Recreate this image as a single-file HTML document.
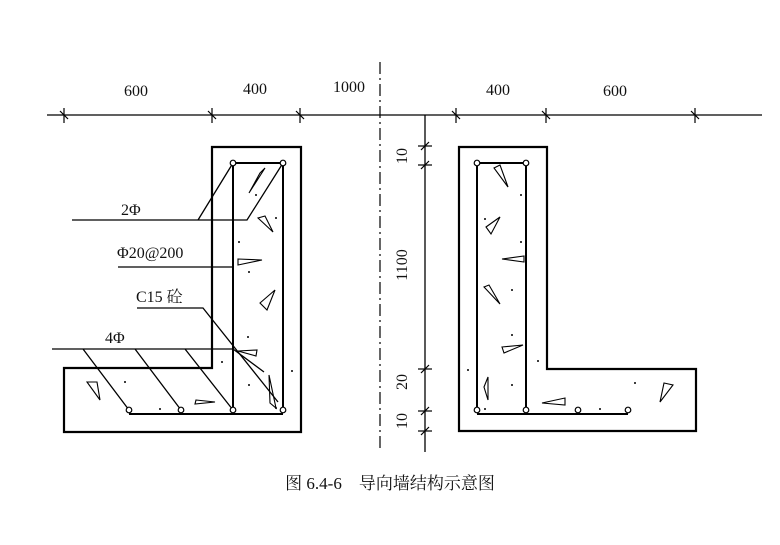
<!DOCTYPE html>
<html><head><meta charset="utf-8"><style>
html,body{margin:0;padding:0;background:#fff;}
svg{display:block}
text{font-family:"Liberation Serif","Noto Serif CJK SC",serif;fill:#111}
</style></head><body>
<svg width="780" height="545" viewBox="0 0 780 545" xmlns="http://www.w3.org/2000/svg">
<g stroke="#000" fill="none" stroke-width="1.3">
<line x1="47" y1="115" x2="762" y2="115"/>
<g stroke-width="1.2">
<line x1="64" y1="108" x2="64" y2="123"/><line x1="212" y1="108" x2="212" y2="123"/><line x1="300" y1="108" x2="300" y2="123"/>
<line x1="456" y1="108" x2="456" y2="123"/><line x1="546" y1="108" x2="546" y2="123"/><line x1="695" y1="108" x2="695" y2="123"/>
<line x1="60" y1="111" x2="68" y2="119"/><line x1="208" y1="111" x2="216" y2="119"/><line x1="296" y1="111" x2="304" y2="119"/>
<line x1="452" y1="111" x2="460" y2="119"/><line x1="542" y1="111" x2="550" y2="119"/><line x1="691" y1="111" x2="699" y2="119"/>
</g>
<line x1="380" y1="62" x2="380" y2="452" stroke-width="1.2" stroke-dasharray="12,4,2,4"/>
<line x1="425" y1="115" x2="425" y2="452"/>
<g stroke-width="1.2">
<line x1="418" y1="146" x2="432" y2="146"/><line x1="418" y1="165" x2="432" y2="165"/><line x1="418" y1="369" x2="432" y2="369"/><line x1="418" y1="411" x2="432" y2="411"/><line x1="418" y1="431" x2="432" y2="431"/>
<line x1="421" y1="150" x2="429" y2="142"/><line x1="421" y1="169" x2="429" y2="161"/><line x1="421" y1="373" x2="429" y2="365"/><line x1="421" y1="415" x2="429" y2="407"/><line x1="421" y1="435" x2="429" y2="427"/>
</g>
<path d="M212 147 L301 147 L301 432 L64 432 L64 368 L212 368 Z" stroke-width="2.2"/>
<path d="M233 163 L283 163 L283 410 M233 163 L233 410 M129 414 L283 414" stroke-width="2"/>
<path d="M459 147 L547 147 L547 369 L696 369 L696 431 L459 431 Z" stroke-width="2.2"/>
<path d="M477 163 L526 163 L526 410 M477 163 L477 410 M477 414 L628 414" stroke-width="2"/>
<path d="M72 220 L247 220 L283 163 M198 220 L233 163"/>
<path d="M118 267 L233 267"/>
<path d="M137 308 L203 308 L278 402"/>
<path d="M52 349 L233 349 M83 349 L129 410 M135 349 L181 410 M185 349 L233 410 M233 349 L264 372"/>
<g stroke-width="1.1">
<path d="M260 173 L265 168 L249 193 Z"/><path d="M258 218 L273 232 L265 216 Z"/><path d="M238 259 L262 260 L238 265 Z"/>
<path d="M260 303 L275 290 L267 310 Z"/><path d="M238 351 L257 350 L256 356 Z"/><path d="M269 375 L276 408 L270 403 Z"/>
<path d="M87 382 L97 382 L100 400 Z"/><path d="M196 400 L215 402 L195 404 Z"/>
<path d="M494 168 L500 165 L508 187 Z"/><path d="M486 227 L500 217 L491 234 Z"/><path d="M502 259 L524 256 L524 262 Z"/>
<path d="M484 287 L489 285 L500 304 Z"/><path d="M502 347 L523 345 L504 353 Z"/><path d="M484 387 L488 377 L488 400 Z"/>
<path d="M542 403 L565 398 L565 405 Z"/><path d="M664 383 L673 385 L660 402 Z"/>
</g>
</g>
<g fill="#000">
<circle cx="256" cy="195" r="1"/><circle cx="276" cy="218" r="1"/><circle cx="239" cy="242" r="1"/><circle cx="249" cy="272" r="1"/><circle cx="248" cy="337" r="1"/><circle cx="222" cy="362" r="1"/><circle cx="292" cy="371" r="1"/><circle cx="125" cy="382" r="1"/><circle cx="249" cy="385" r="1"/><circle cx="160" cy="409" r="1"/><circle cx="276" cy="408" r="1"/>
<circle cx="521" cy="195" r="1"/><circle cx="485" cy="219" r="1"/><circle cx="521" cy="242" r="1"/><circle cx="512" cy="290" r="1"/><circle cx="512" cy="335" r="1"/><circle cx="538" cy="361" r="1"/><circle cx="468" cy="370" r="1"/><circle cx="512" cy="385" r="1"/><circle cx="635" cy="383" r="1"/><circle cx="485" cy="409" r="1"/><circle cx="600" cy="409" r="1"/>
</g>
<g fill="#fff" stroke="#000" stroke-width="1.2">
<circle cx="233" cy="163" r="2.8"/><circle cx="283" cy="163" r="2.8"/><circle cx="129" cy="410" r="2.8"/><circle cx="181" cy="410" r="2.8"/><circle cx="233" cy="410" r="2.8"/><circle cx="283" cy="410" r="2.8"/>
<circle cx="477" cy="163" r="2.8"/><circle cx="526" cy="163" r="2.8"/><circle cx="477" cy="410" r="2.8"/><circle cx="526" cy="410" r="2.8"/><circle cx="578" cy="410" r="2.8"/><circle cx="628" cy="410" r="2.8"/>
</g>
<g font-size="16">
<text x="124" y="96">600</text><text x="243" y="94">400</text><text x="333" y="92">1000</text>
<text x="486" y="95">400</text><text x="603" y="96">600</text>
<text x="121" y="215">2Φ</text><text x="117" y="258">Φ20@200</text><text x="136" y="302">C15 砼</text><text x="105" y="343">4Φ</text>
<text transform="translate(407,156) rotate(-90)" text-anchor="middle">10</text>
<text transform="translate(407,265) rotate(-90)" text-anchor="middle">1100</text>
<text transform="translate(407,382) rotate(-90)" text-anchor="middle">20</text>
<text transform="translate(407,421) rotate(-90)" text-anchor="middle">10</text>
<text x="390" y="489" text-anchor="middle" font-size="17">图 6.4-6　导向墙结构示意图</text>
</g>
</svg>
</body></html>
